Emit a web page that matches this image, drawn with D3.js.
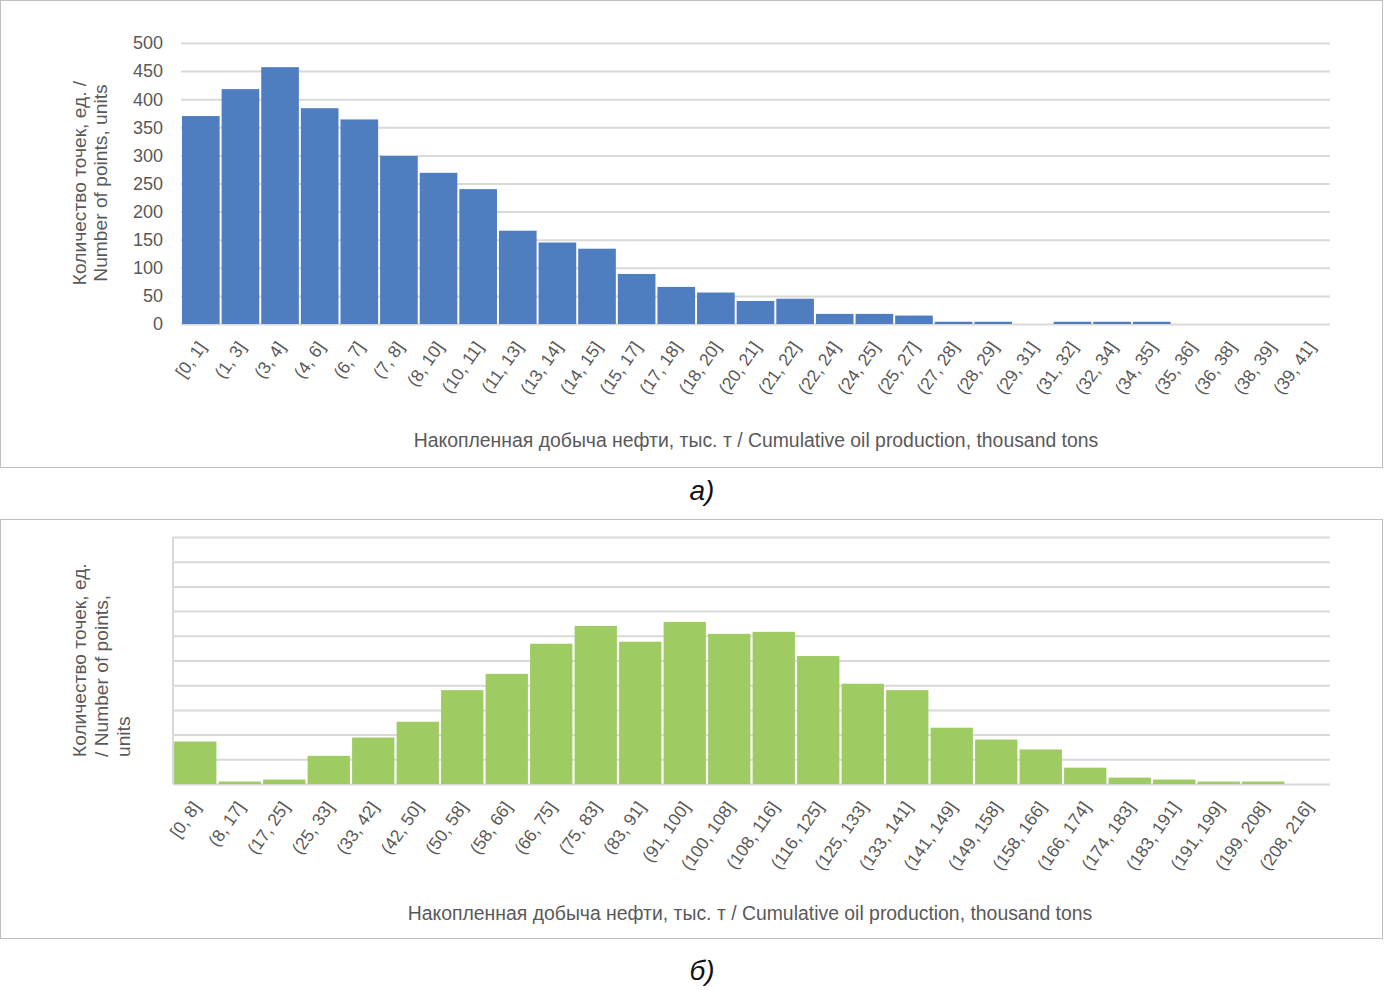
<!DOCTYPE html>
<html>
<head>
    <meta charset="utf-8">
    <title>Cumulative oil production histograms</title>
    <script src="https://cdn.jsdelivr.net/npm/d3@7"></script>
    <style>
        body {
            margin: 0;
            background: white;
        }
        text {
            font-family: "Liberation Sans", Arial, sans-serif;
            fill: #595959;
        }
        .grid line {
            stroke: #d9d9d9;
            stroke-width: 2;
        }
        .grid path {
            display: none;
        }
        .caption {
            font-style: italic;
            fill: #111;
        }
    </style>
</head>
<body>
    <div id="chart"></div>

    <script>
        // Chart a) - bins and counts
        const binsA = ["[0, 1]", "(1, 3]", "(3, 4]", "(4, 6]", "(6, 7]", "(7, 8]", "(8, 10]", "(10, 11]",
            "(11, 13]", "(13, 14]", "(14, 15]", "(15, 17]", "(17, 18]", "(18, 20]", "(20, 21]", "(21, 22]",
            "(22, 24]", "(24, 25]", "(25, 27]", "(27, 28]", "(28, 29]", "(29, 31]", "(31, 32]", "(32, 34]",
            "(34, 35]", "(35, 36]", "(36, 38]", "(38, 39]", "(39, 41]"];
        const countsA = [370, 418, 457, 384, 364, 299, 269, 240, 166, 145, 134, 89, 66, 56, 41, 45,
            18, 18, 15, 4, 4, 0, 4, 4, 4, 0, 0, 0, 0];
        const ticksA = [0, 50, 100, 150, 200, 250, 300, 350, 400, 450, 500];

        // Chart б) - bins and counts (y axis has no labels in the source)
        const binsB = ["[0, 8]", "(8, 17]", "(17, 25]", "(25, 33]", "(33, 42]", "(42, 50]", "(50, 58]",
            "(58, 66]", "(66, 75]", "(75, 83]", "(83, 91]", "(91, 100]", "(100, 108]", "(108, 116]",
            "(116, 125]", "(125, 133]", "(133, 141]", "(141, 149]", "(149, 158]", "(158, 166]",
            "(166, 174]", "(174, 183]", "(183, 191]", "(191, 199]", "(199, 208]", "(208, 216]"];
        const countsB = [86, 5, 9, 57, 94, 126, 190, 223, 284, 320, 288, 328, 304, 308, 259, 203,
            190, 114, 90, 70, 33, 13, 9, 5, 5, 0];
        const ticksB = [0, 50, 100, 150, 200, 250, 300, 350, 400, 450, 500];

        const xTitle = "Накопленная добыча нефти, тыс. т / Cumulative oil production, thousand tons";

        const W = 1384, H = 990;

        const svg = d3.select("#chart")
            .append("svg")
            .attr("width", W)
            .attr("height", H);

        function drawPanel(opt) {
            // panel frame
            svg.append("rect")
                .attr("x", 0.5)
                .attr("y", opt.frameTop + 0.5)
                .attr("width", W - 2)
                .attr("height", opt.frameHeight)
                .attr("fill", "none")
                .attr("stroke", "#bfbfbf");

            const x = d3.scaleBand()
                .domain(opt.bins)
                .range([opt.left, opt.right])
                .paddingInner(0.05)
                .paddingOuter(0.025);

            const y = d3.scaleLinear()
                .domain([0, 500])
                .range([opt.bottom, opt.top]);

            // horizontal gridlines
            svg.append("g")
                .attr("class", "grid")
                .attr("transform", `translate(${opt.left},0)`)
                .call(d3.axisLeft(y).tickValues(opt.ticks).tickSize(-(opt.right - opt.left)).tickFormat(""));

            if (opt.leftLine) {
                svg.append("line")
                    .attr("x1", opt.left).attr("x2", opt.left)
                    .attr("y1", opt.top).attr("y2", opt.bottom)
                    .attr("stroke", "#d9d9d9")
                    .attr("stroke-width", 2);
            }

            // bars
            svg.append("g")
                .selectAll("rect")
                .data(opt.counts)
                .join("rect")
                .attr("x", (d, i) => x(opt.bins[i]))
                .attr("width", x.bandwidth())
                .attr("y", d => y(d))
                .attr("height", d => y(0) - y(d))
                .attr("fill", opt.color);

            // y tick labels
            if (opt.showYLabels) {
                svg.append("g")
                    .selectAll("text")
                    .data(opt.ticks)
                    .join("text")
                    .attr("x", opt.left - 18)
                    .attr("y", d => y(d))
                    .attr("dy", "0.35em")
                    .attr("text-anchor", "end")
                    .style("font-size", "18px")
                    .text(d => d);
            }

            // rotated category labels
            svg.append("g")
                .selectAll("text")
                .data(opt.bins)
                .join("text")
                .attr("transform", d => `translate(${x(d) + x.bandwidth() / 2 + 6},${opt.bottom + 23}) rotate(-55)`)
                .attr("text-anchor", "end")
                .style("font-size", "17.5px")
                .text(d => d);

            // x axis title
            svg.append("text")
                .attr("x", opt.xTitleX)
                .attr("y", opt.xTitleY)
                .attr("text-anchor", "middle")
                .style("font-size", "19.4px")
                .text(xTitle);

            // y axis title (several lines)
            opt.yTitle.forEach((line, i) => {
                svg.append("text")
                    .attr("transform", `translate(${opt.yTitleX + i * opt.yTitleStep},${opt.yTitleY}) rotate(-90)`)
                    .attr("text-anchor", opt.yTitleAnchor)
                    .style("font-size", "19.2px")
                    .text(line);
            });

            // caption
            svg.append("text")
                .attr("class", "caption")
                .attr("x", 702)
                .attr("y", opt.captionY)
                .attr("text-anchor", "middle")
                .style("font-size", "28px")
                .text(opt.caption);
        }

        drawPanel({
            bins: binsA, counts: countsA, ticks: ticksA, color: "#4f7ec0",
            frameTop: 0, frameHeight: 467,
            left: 181, right: 1330, top: 43, bottom: 324,
            showYLabels: true, leftLine: false,
            xTitleX: 756, xTitleY: 447,
            yTitle: ["Количество точек, ед. /", "Number of points, units"],
            yTitleX: 86, yTitleStep: 21, yTitleY: 183, yTitleAnchor: "middle",
            caption: "а)", captionY: 500
        });

        drawPanel({
            bins: binsB, counts: countsB, ticks: ticksB, color: "#9ecb62",
            frameTop: 519, frameHeight: 419,
            left: 173, right: 1330, top: 537, bottom: 784,
            showYLabels: false, leftLine: true,
            xTitleX: 750, xTitleY: 920,
            yTitle: ["Количество точек, ед.", "/ Number of points,", "units"],
            yTitleX: 86, yTitleStep: 22, yTitleY: 757, yTitleAnchor: "start",
            caption: "б)", captionY: 980
        });
    </script>
</body>
</html>
